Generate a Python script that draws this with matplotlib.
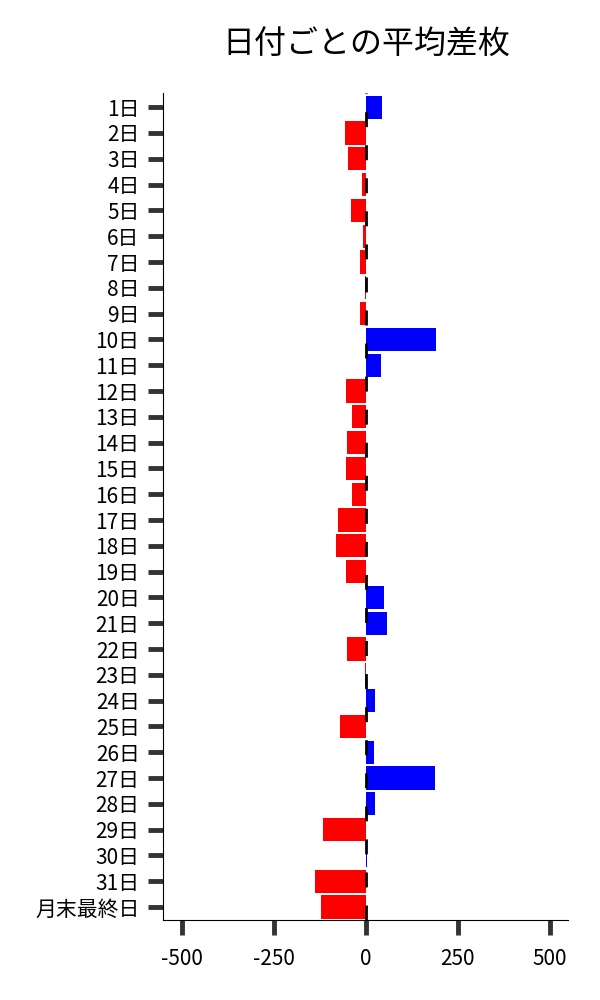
import numpy as np
import matplotlib
matplotlib.use("Agg")
import matplotlib.pyplot as plt

plt.rcParams['font.family'] = ['Noto Sans CJK JP', 'DejaVu Sans']

days = [f"{d}日" for d in range(1, 32)] + ["月末最終日"]
avg_diff = [44, -55, -49, -9, -39, -7, -15, -2, -15, 190,
            41, -53, -37, -50, -53, -37, -75, -80, -53, 50,
            57, -50, -3, 26, -69, 23, 188, 26, -115, 3,
            -137, -121]

fig = plt.figure(figsize=(6, 10), dpi=100)
ax = fig.add_axes([0.272, 0.08, 0.675, 0.827])

y = np.arange(len(days))
vals = np.array(avg_diff)
colors = ["blue" if v > 0 else "red" for v in vals]
ax.barh(y, vals, height=0.9, color=colors)
ax.axvline(0, color="black", lw=2, linestyle=(0, (5.4, 6.5)), zorder=3)

ax.set_ylim(len(days) - 0.5, -0.55)
ax.set_xlim(-550, 550)
ax.set_yticks(y)
ax.set_yticklabels(days, fontsize=15)
ax.set_xticks([-500, -250, 0, 250, 500])
ax.set_xticklabels(["-500", "-250", "0", "250", "500"], fontsize=15)
ax.tick_params(length=11, width=3.5, color="#333333", pad=6)
ax.tick_params(axis="x", pad=9)

for s in ["top", "right"]:
    ax.spines[s].set_visible(False)
for s in ["left", "bottom"]:
    ax.spines[s].set_linewidth(0.8)

fig.suptitle("日付ごとの平均差枚", x=0.61, y=0.971, fontsize=23)
fig.savefig("out.png")
